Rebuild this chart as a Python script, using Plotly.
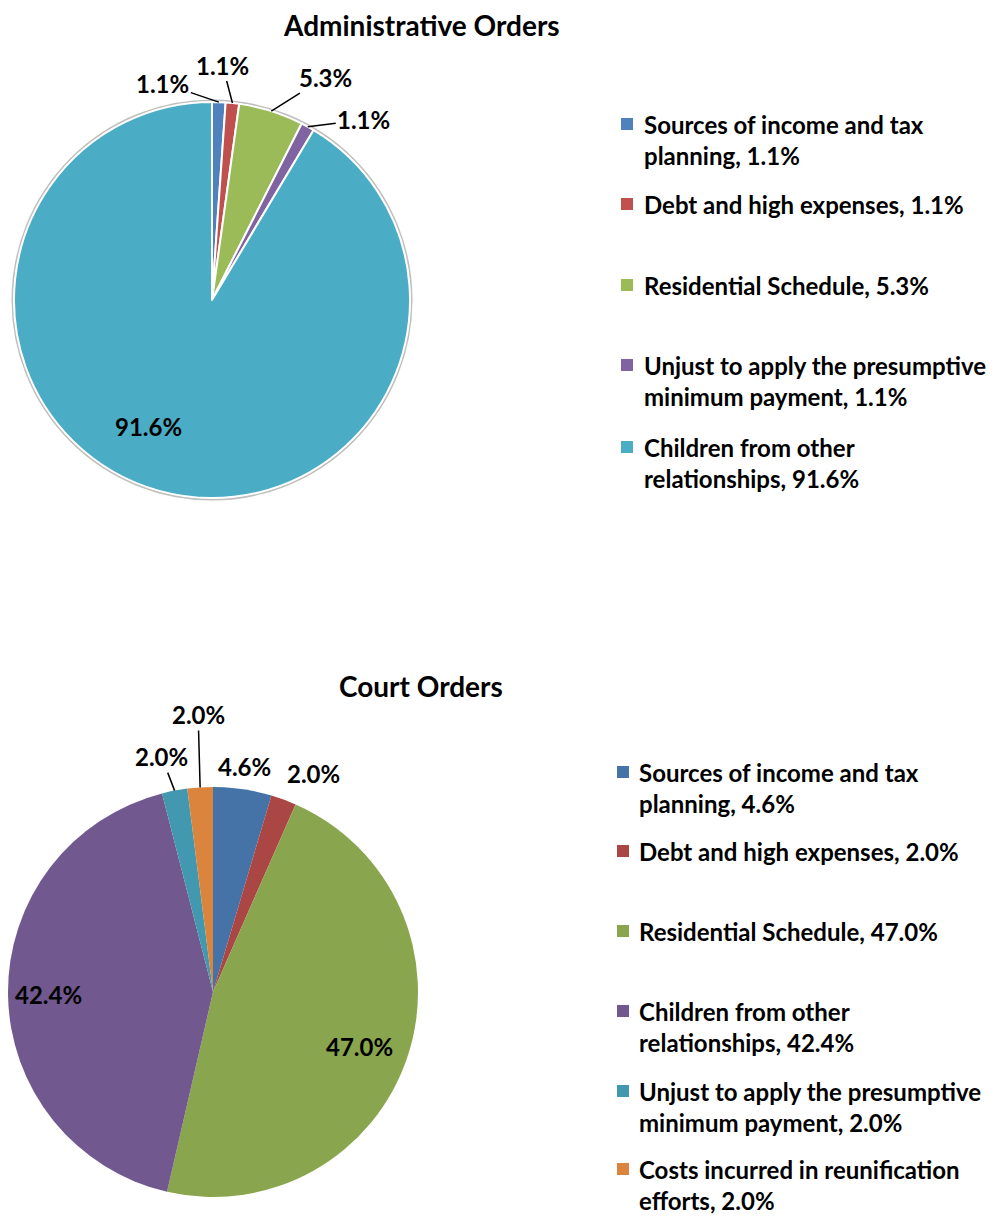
import math
import plotly.graph_objects as go

# ------------------------
# Data
# ------------------------
admin_labels = ["Sources of income and tax<br>planning", "Debt and high expenses",
                "Residential Schedule", "Unjust to apply the presumptive<br>minimum payment",
                "Children from other<br>relationships"]
admin_values = [1.1, 1.1, 5.3, 1.1, 91.6]
admin_colors = ["#4F81BD", "#C0504D", "#9BBB59", "#8064A2", "#4BACC6"]

court_labels = ["Sources of income and tax<br>planning", "Debt and high expenses",
                "Residential Schedule", "Children from other<br>relationships",
                "Unjust to apply the presumptive<br>minimum payment",
                "Costs incurred in reunification<br>efforts"]
court_values = [4.6, 2.0, 47.0, 42.4, 2.0, 2.0]
court_colors = ["#4572A7", "#AA4643", "#89A54E", "#71588F", "#4198AF", "#DB843D"]

# page is 1006x1222, the browser body adds an 8px margin round the figure
PAGE_PAD = 8
W, H = 1006 - 2 * PAGE_PAD, 1222 - 2 * PAGE_PAD
FONT = "Lato"


def px(x):
    # page pixel -> paper x
    return min(max((x - PAGE_PAD) / W, 0), 1)


def py(y):
    # page pixel -> paper y
    return min(max(1 - (y - PAGE_PAD) / H, 0), 1)


# pie geometry in page pixels (centre x, centre y, radius)
admin_geo = (212, 300, 198)
court_geo = (213, 992, 205)

# label offsets from the rim point of each slice (pixels), and whether a leader line is drawn
admin_offsets = [(-56, -19, True), (-10, -38, True), (54, -34, True), (56, -7, True), (-11, -64, False)]
court_offsets = [(2, -23, False), (30, -26, False), (-48, -10, False), (40, 0, False),
                 (-13, -34, True), (-2, -73, True)]

# legend rows: y of first text line (page pixels)
admin_legend_y = [124, 204, 285, 365, 447]
court_legend_y = [772, 851, 931, 1011, 1091, 1169]


def pie_trace(values, colors, geo, border):
    cx, cy, r = geo
    return go.Pie(
        values=values,
        marker=dict(colors=colors, line=dict(color="white", width=border)),
        sort=False,
        direction="clockwise",
        rotation=0,
        textinfo="none",
        hoverinfo="value",
        showlegend=False,
        domain=dict(x=[px(cx - r), px(cx + r)], y=[py(cy + r), py(cy - r)]),
    )


def slice_labels(values, geo, offsets):
    cx, cy, r = geo
    total = sum(values)
    anns = []
    cum = 0
    for v, (dx, dy, arrow) in zip(values, offsets):
        theta = 2 * math.pi * (cum + v / 2) / total
        cum += v
        tx = cx + r * math.sin(theta)
        ty = cy - r * math.cos(theta)
        a = dict(x=px(tx), y=py(ty), xref="paper", yref="paper",
                 xanchor="center", yanchor="middle",
                 text=f"<b>{v:.1f}%</b>", font=dict(family=FONT, size=24, color="black"))
        if arrow:
            a.update(showarrow=True, ax=dx, ay=dy, arrowhead=0, arrowwidth=1.5,
                     arrowcolor="black", standoff=0)
        else:
            a.update(showarrow=False, xshift=dx, yshift=-dy)
        anns.append(a)
    return anns


def legend_items(labels, values, colors, ys, x_marker, x_text):
    anns, shapes = [], []
    for lab, v, c, y in zip(labels, values, colors, ys):
        anns.append(dict(x=px(x_text), y=py(y - 16), xref="paper", yref="paper",
                         xanchor="left", yanchor="top", align="left", showarrow=False,
                         text=f"<b>{lab}, {v:.1f}%</b>".replace("<br>", "</b><br><b>"),
                         font=dict(family=FONT, size=24, color="black")))
        shapes.append(dict(type="rect", xref="paper", yref="paper",
                           x0=px(x_marker), x1=px(x_marker + 12),
                           y0=py(y + 6), y1=py(y - 6),
                           fillcolor=c, line=dict(width=0)))
    return anns, shapes


fig = go.Figure()
fig.add_trace(pie_trace(admin_values, admin_colors, admin_geo, 2))
fig.add_trace(pie_trace(court_values, court_colors, court_geo, 0))

annotations = []
annotations += slice_labels(admin_values, admin_geo, admin_offsets)
annotations += slice_labels(court_values, court_geo, court_offsets)

a1, s1 = legend_items(admin_labels, admin_values, admin_colors, admin_legend_y, 621, 642)
a2, s2 = legend_items(court_labels, court_values, court_colors, court_legend_y, 617, 637)
annotations += a1 + a2

# chart titles
for title, ty in [("Administrative Orders", 25), ("Court Orders", 686)]:
    annotations.append(dict(x=px(421), y=py(ty), xref="paper", yref="paper", showarrow=False,
                            xanchor="center", yanchor="middle",
                            text=f"<b>{title}</b>", font=dict(family=FONT, size=28, color="black")))

# faint shadow ring around the administrative pie
cx, cy, r = admin_geo
shapes = s1 + s2 + [dict(type="circle", xref="paper", yref="paper", layer="below",
                         x0=px(cx - r - 1.5), x1=px(cx + r + 1.5),
                         y0=py(cy + r + 1.5), y1=py(cy - r - 1.5),
                         line=dict(color="#BFBFBF", width=2))]

fig.update_layout(
    width=W, height=H,
    margin=dict(l=0, r=0, t=0, b=0),
    paper_bgcolor="white",
    plot_bgcolor="white",
    annotations=annotations,
    shapes=shapes,
)

fig.write_html("out.html")
